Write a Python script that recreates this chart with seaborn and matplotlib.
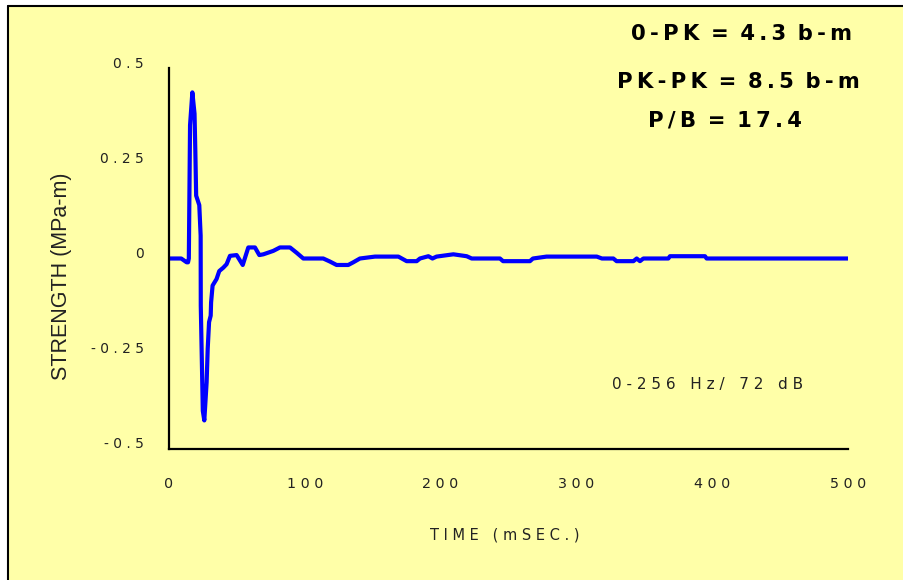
import matplotlib
matplotlib.use("Agg")
import matplotlib.pyplot as plt
import matplotlib.transforms as mtransforms
from matplotlib.patches import Rectangle
from matplotlib.lines import Line2D
import seaborn as sns
import pandas as pd

# --- data ---
time_ms = [0, 9, 13, 14.0, 14.6, 15.5, 17.2, 18.8, 19.4, 20.0, 22.3, 23.3, 23.4,
           24.9, 26.0, 27.7, 28.5, 29.5, 30.7, 31.0, 32.1, 35, 37, 40, 42.4, 44.9,
           49.8, 54.3, 56.7, 58.4, 63.3, 66.5, 69.5, 76.8, 81.7, 89.1, 94, 98.9,
           113.6, 118.5, 123.4, 132, 135.7, 140.6, 151.7, 168.9, 175, 182.4, 184.8,
           191, 194, 197, 209.4, 219.2, 222.9, 243.7, 246, 265.8, 268, 278, 315,
           318.8, 327.2, 329.6, 342, 344.4, 346.8, 349.3, 367.7, 368.9, 394.7,
           395.9, 500]
strength = [0, 0, -0.01, -0.01, 0.0, 0.35, 0.436, 0.38, 0.28, 0.165, 0.14, 0.06,
            -0.124, -0.40, -0.425, -0.325, -0.237, -0.167, -0.15, -0.115, -0.071,
            -0.054, -0.033, -0.024, -0.015, 0.007, 0.009, -0.017, 0.01, 0.029,
            0.029, 0.009, 0.011, 0.02, 0.029, 0.029, 0.015, 0, 0, -0.008, -0.017,
            -0.017, -0.01, 0, 0.005, 0.005, -0.007, -0.007, 0, 0.006, 0, 0.005,
            0.011, 0.006, 0, 0, -0.007, -0.007, 0, 0.005, 0.005, 0, 0, -0.007,
            -0.007, 0, -0.007, 0, 0, 0.006, 0.006, 0, 0]

x_ticks = list(range(0, 501, 20))
x_tick_labels = ['0', '100', '200', '300', '400', '500']
y_ticks = [-0.5, -0.25, 0, 0.25, 0.5]
y_tick_labels = ['-0.5', '-0.25', '0', '0.25', '0.5']

stats_lines = ['0-PK = 4.3 b-m', 'PK-PK = 8.5 b-m', 'P/B = 17.4']
band_note = '0-256 Hz/ 72 dB'

YELLOW = '#FFFFA8'
TXT = '#222222'


def spaced(s, sep=' '):
    # fake the wide letter spacing of the original
    return sep.join(s)


def tight_spaced(s, sep='\u2009'):
    # thin letter spacing between glyphs, real spaces get a bit extra
    out = s[0]
    for a, b in zip(s, s[1:]):
        if b == ' ':
            out += ' '
        elif a == ' ':
            out += sep + b
        else:
            out += sep + b
    return out


df = pd.DataFrame({'t': time_ms, 'v': strength})

sns.set_style('white')
plt.rcParams['font.family'] = ['DejaVu Sans']

fig = plt.figure(figsize=(9.04, 5.8), dpi=100)
fig.patch.set_facecolor('white')

W, H = 904, 580
fig.patches.append(Rectangle((8 / W, 0), 1, 1 - 6 / H, transform=fig.transFigure,
                             facecolor=YELLOW, edgecolor='none', zorder=-10))
fig.lines.append(Line2D([8 / W, 8 / W], [0, 1 - 6 / H], transform=fig.transFigure,
                        color='black', lw=1.5))
fig.lines.append(Line2D([8 / W, 1], [1 - 6 / H, 1 - 6 / H], transform=fig.transFigure,
                        color='black', lw=1.5))

ax = fig.add_axes([169 / W, 1 - 449 / H, (848 - 169) / W, (449 - 68) / H])
ax.set_facecolor('none')

sns.lineplot(data=df, x='t', y='v', ax=ax, color='#0000FF', linewidth=3,
             estimator=None, sort=False)

ax.set_xlim(0, 500)
ax.set_ylim(-0.5, 0.5)

for side in ['top', 'right']:
    ax.spines[side].set_visible(False)
for side in ['left', 'bottom']:
    ax.spines[side].set_linewidth(1.6)
    ax.spines[side].set_color('black')

major = dict(zip(range(0, 501, 100), x_tick_labels))
ax.set_xticks(x_ticks)
ax.set_xticklabels([spaced(major[t]) if t in major else '' for t in x_ticks])
ax.tick_params(axis='x', direction='in', length=5, width=1.4, pad=20,
               labelsize=10.3, colors='black')
ax.set_yticks(y_ticks)
ax.set_yticklabels([spaced(l) for l in y_tick_labels])
ax.tick_params(axis='y', direction='out', length=6, width=1.4, pad=12,
               labelsize=10, colors='black')
shift = mtransforms.ScaledTranslation(0, 6 / 100, fig.dpi_scale_trans)
for lab in ax.get_yticklabels():
    lab.set_transform(lab.get_transform() + shift)
for lab in ax.get_xticklabels() + ax.get_yticklabels():
    lab.set_color(TXT)

ax.set_xlabel(spaced('TIME (mSEC.)'), fontsize=10.5, color=TXT)
ax.xaxis.set_label_coords(0.495, -0.207)
ax.set_ylabel('STRENGTH (MPa-m)', fontsize=15.5, color=TXT,
              family=['Liberation Sans', 'DejaVu Sans'])
ax.yaxis.set_label_coords(-0.143, 0.454)

stats_pos = [(742, 34), (738, 82), (725, 121)]
for txt, (px, py) in zip(stats_lines, stats_pos):
    fig.text(px / W, 1 - py / H, tight_spaced(txt), fontsize=15.2,
             fontweight='bold', ha='center', va='center', color='black')

fig.text(708 / W, 1 - 385 / H, spaced(band_note), fontsize=11, ha='center',
         va='center', color=TXT)

fig.savefig('out.png', dpi=100, facecolor=fig.get_facecolor())
